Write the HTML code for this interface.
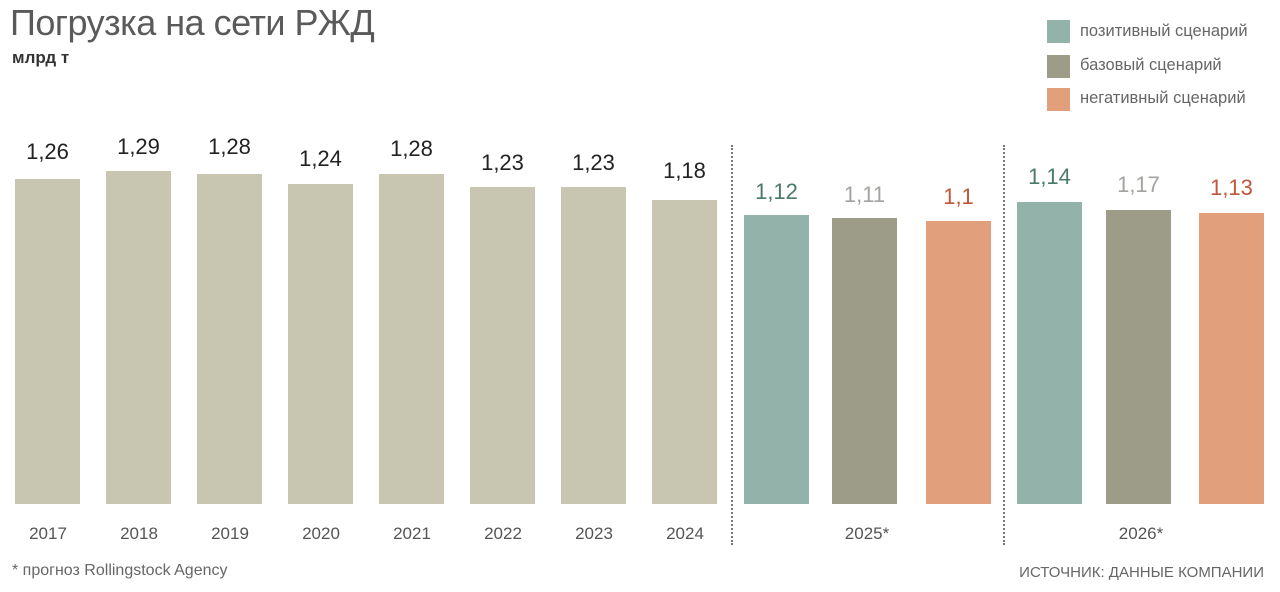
<!DOCTYPE html>
<html><head><meta charset="utf-8"><style>
body{margin:0;width:1280px;height:592px;background:#fff;position:relative;overflow:hidden;font-family:"Liberation Sans","DejaVu Sans",sans-serif}
.a{position:absolute}
.b{position:absolute;bottom:88px;width:65px}
.v{position:absolute;width:100px;text-align:center;font-size:22px;transform:translateX(-17.5px);color:#222}
.y{position:absolute;top:524px;width:80px;text-align:center;font-size:17px;color:#555}
.sq{position:absolute;left:1047px;width:23px;height:23px}
.lt{position:absolute;left:1080px;font-size:16.5px;color:#666}
.d{position:absolute;top:145px;height:400px;border-left:2px dotted #777}
</style></head><body>
<div class="a" style="left:10px;top:2px;font-size:36px;color:#5a5a5a;letter-spacing:-0.5px">Погрузка на сети РЖД</div>
<div class="a" style="left:12px;top:48px;font-size:17px;font-weight:bold;color:#333">млрд т</div>
<div class="sq" style="top:20px;background:#93b3aa"></div><div class="lt" style="top:22px">позитивный сценарий</div>
<div class="sq" style="top:55px;background:#9c9c88"></div><div class="lt" style="top:56px">базовый сценарий</div>
<div class="sq" style="top:88px;background:#e29f7c"></div><div class="lt" style="top:89px">негативный сценарий</div>
<div class="d" style="left:731px"></div><div class="d" style="left:1003px"></div>

<div class="b" style="left:15px;top:179px;background:#c8c6b0"></div><div class="v" style="left:15px;top:139px">1,26</div>
<div class="b" style="left:106px;top:171px;background:#c8c6b0"></div><div class="v" style="left:106px;top:134px">1,29</div>
<div class="b" style="left:197px;top:174px;background:#c8c6b0"></div><div class="v" style="left:197px;top:134px">1,28</div>
<div class="b" style="left:288px;top:184px;background:#c8c6b0"></div><div class="v" style="left:288px;top:146px">1,24</div>
<div class="b" style="left:379px;top:174px;background:#c8c6b0"></div><div class="v" style="left:379px;top:136px">1,28</div>
<div class="b" style="left:470px;top:187px;background:#c8c6b0"></div><div class="v" style="left:470px;top:150px">1,23</div>
<div class="b" style="left:561px;top:187px;background:#c8c6b0"></div><div class="v" style="left:561px;top:150px">1,23</div>
<div class="b" style="left:652px;top:200px;background:#c8c6b0"></div><div class="v" style="left:652px;top:158px">1,18</div>
<div class="b" style="left:744px;top:215px;background:#93b3aa"></div><div class="v" style="left:744px;top:179px;color:#4a7a6a">1,12</div>
<div class="b" style="left:832px;top:218px;background:#9c9c88"></div><div class="v" style="left:832px;top:182px;color:#a3a3a0">1,11</div>
<div class="b" style="left:926px;top:221px;background:#e29f7c"></div><div class="v" style="left:926px;top:184px;color:#c0573a">1,1</div>
<div class="b" style="left:1017px;top:202px;background:#93b3aa"></div><div class="v" style="left:1017px;top:164px;color:#4a7a6a">1,14</div>
<div class="b" style="left:1106px;top:210px;background:#9c9c88"></div><div class="v" style="left:1106px;top:172px;color:#a3a3a0">1,17</div>
<div class="b" style="left:1199px;top:213px;background:#e29f7c"></div><div class="v" style="left:1199px;top:175px;color:#c0573a">1,13</div>

<div class="y" style="left:8px">2017</div><div class="y" style="left:99px">2018</div><div class="y" style="left:190px">2019</div><div class="y" style="left:281px">2020</div><div class="y" style="left:372px">2021</div><div class="y" style="left:463px">2022</div><div class="y" style="left:554px">2023</div><div class="y" style="left:645px">2024</div>
<div class="y" style="left:827px">2025*</div><div class="y" style="left:1101px">2026*</div>
<div class="a" style="left:12px;top:562px;font-size:16px;color:#666">* прогноз Rollingstock Agency</div>
<div class="a" style="right:16px;top:564px;font-size:15px;color:#666">ИСТОЧНИК: ДАННЫЕ КОМПАНИИ</div>
</body></html>
